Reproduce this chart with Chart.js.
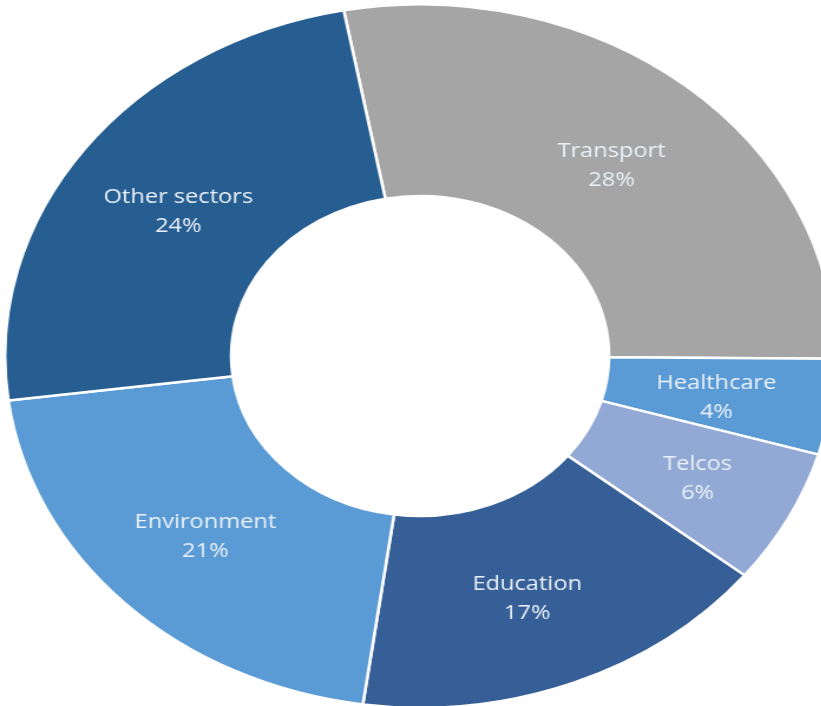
<!DOCTYPE html>
<html>
<head>
<meta charset="utf-8">
<title>Sectors</title>
<script src="https://cdn.jsdelivr.net/npm/chart.js@4.4.1/dist/chart.umd.min.js"></script>
<style>
  html, body { margin: 0; padding: 0; background: #fff; overflow: hidden; }
  /* the source picture is stretched sideways, so stretch the canvas the same way */
  .wrap { width: 712px; height: 712px; transform: scaleX(1.18); transform-origin: 0 0; }
</style>
</head>
<body>
<div class="wrap">
  <canvas id="chart" width="712" height="712"></canvas>
</div>
<script>
const sectors = ['Transport', 'Healthcare', 'Telcos', 'Education', 'Environment', 'Other sectors'];
// slice sizes (labels show them rounded)
const shares = [28.1, 4.4, 6.2, 16.5, 20.8, 24.1];
const sectorColors = ['#a5a5a5', '#5b9bd5', '#91a9d4', '#355f96', '#5b9bd5', '#275e92'];

// draws "name / xx%" in the middle of each slice
const sliceLabels = {
  id: 'sliceLabels',
  afterDatasetsDraw(chart, args, opts) {
    const ctx = chart.ctx;
    const meta = chart.getDatasetMeta(0);
    ctx.save();
    ctx.font = '20px "Open Sans", sans-serif';
    ctx.fillStyle = '#eaf1f9';
    ctx.textAlign = 'center';
    ctx.textBaseline = 'middle';
    meta.data.forEach((arc, i) => {
      const pos = arc.getCenterPoint();
      const nudge = opts.nudge[i] || [0, 0];
      const x = pos.x + nudge[0];
      const y = pos.y + nudge[1] + 5;
      ctx.fillText(chart.data.labels[i], x, y - 14.5);
      ctx.fillText(Math.round(chart.data.datasets[0].data[i]) + '%', x, y + 14.5);
    });
    ctx.restore();
  }
};

const ctx = document.getElementById('chart').getContext('2d');
new Chart(ctx, {
  type: 'doughnut',
  data: {
    labels: sectors,
    datasets: [
      {
        data: shares,
        backgroundColor: sectorColors,
        borderColor: '#ffffff',
        borderWidth: 2.5,
      },
    ],
  },
  options: {
    responsive: false,
    animation: false,
    devicePixelRatio: 1,
    rotation: -10.6,
    cutout: '45.5%',
    layout: { padding: 3 },
    plugins: {
      legend: { display: false },
      tooltip: { enabled: false },
      // small shifts so the labels sit where the original put them
      sliceLabels: { nudge: [[-2, 1], [-2, 0], [8, 0], [-4, 0], [0, -4], [2, 1]] },
    },
  },
  plugins: [sliceLabels],
});
</script>
</body>
</html>
